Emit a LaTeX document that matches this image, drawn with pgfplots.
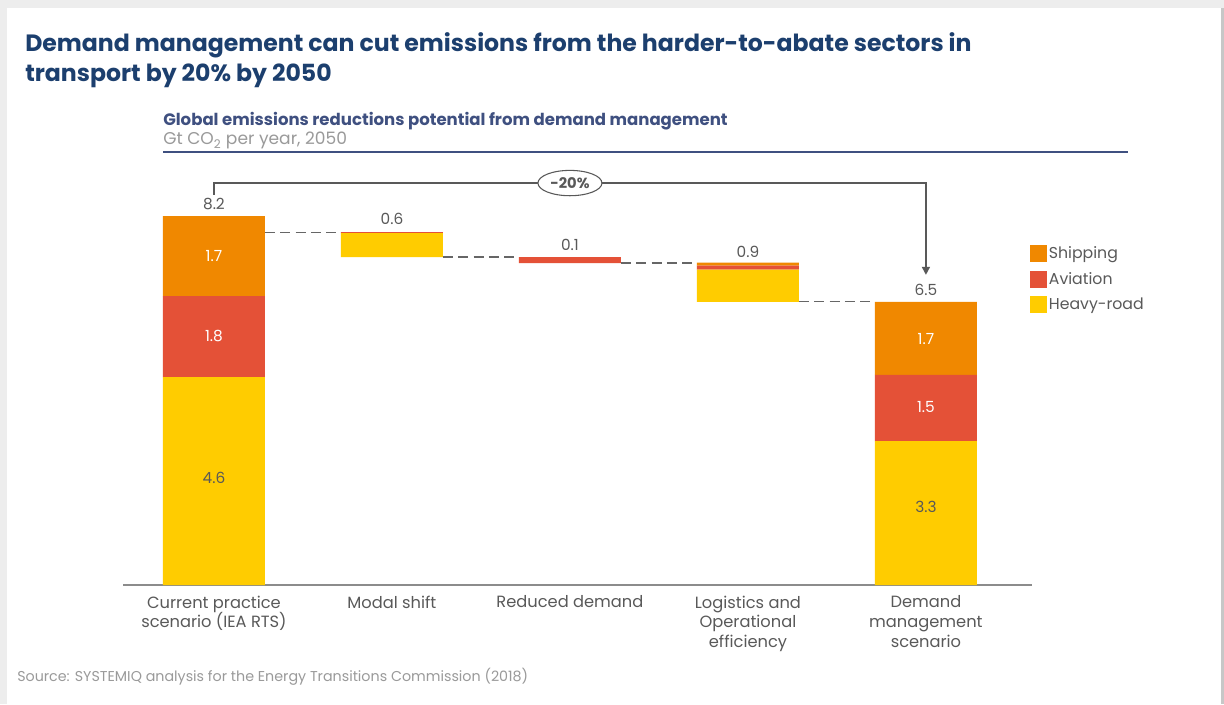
\documentclass[border=0pt]{standalone}
\usepackage{fontspec}
\setmainfont{Poppins}
\usepackage{pgfplots}
\pgfplotsset{compat=1.18}
\usetikzlibrary{arrows.meta,shapes.geometric}

\definecolor{shipc}{HTML}{F08800}
\definecolor{aviac}{HTML}{E45137}
\definecolor{roadc}{HTML}{FFCC00}
\definecolor{navy}{HTML}{1C3F6E}
\definecolor{subnavy}{HTML}{3F5080}
\definecolor{txtgray}{HTML}{595959}
\definecolor{lightgray}{HTML}{9A9A9A}

\begin{document}
\begin{tikzpicture}[x=0.75pt,y=0.75pt]
% panel with a soft frame
\fill[black!7] (0,0) rectangle (1224,704);
\fill[white] (7,0) rectangle (1221,696);
\fill[black!22] (1221,0) rectangle (1224,696);

% titles
\node[anchor=base west, inner sep=0, text=navy, font=\fontsize{17.7}{20}\selectfont\bfseries]
  at (25,704-52) {Demand management can cut emissions from the harder-to-abate sectors in};
\node[anchor=base west, inner sep=0, text=navy, font=\fontsize{17.7}{20}\selectfont\bfseries]
  at (25,704-82) {transport by 20\% by 2050};
\node[anchor=base west, inner sep=0, text=subnavy, font=\fontsize{12.4}{14}\selectfont\bfseries]
  at (163,704-126) {Global emissions reductions potential from demand management};
\node[anchor=base west, inner sep=0, text=lightgray, font=\fontsize{12.8}{14}\selectfont]
  at (163,704-145) {Gt CO\textsubscript{2} per year, 2050};
\draw[subnavy, line width=0.9pt] (163,704-152) -- (1128,704-152);
\node[anchor=base west, inner sep=0, text=lightgray, font=\fontsize{10.7}{12}\selectfont]
  at (17,704-681) {Source: SYSTEMIQ analysis for the Energy Transitions Commission (2018)};

\begin{axis}[
    at={(92.25pt,89.25pt)}, anchor=south west,
    scale only axis,
    width=681.75pt, height=309.94pt,
    ybar stacked,
    bar width=0.573,
    xmin=-0.511, xmax=4.596,
    ymin=0, ymax=9.5,
    clip=false,
    axis y line=none,
    axis x line*=bottom,
    x axis line style={-, draw=black!45, line width=1.1pt},
    ytick=\empty,
    xtick={0,1,2,3,4},
    xticklabels={Current practice\\scenario (IEA RTS), Modal shift, Reduced demand,
                 Logistics and\\Operational\\efficiency, Demand\\management\\scenario},
    major tick length=0pt,
    xticklabel style={align=center, text=txtgray, yshift=-4.5pt,
                      font=\fontsize{12.2}{14.8}\selectfont},
    legend style={draw=none, fill=none, at={(0.993,0.830)}, anchor=north west,
                  font=\fontsize{11.8}{13}\selectfont, row sep=5.6pt,
                  nodes={text=txtgray, inner sep=1.5pt}},
    legend cell align=left,
    reverse legend,
    legend image code/.code={\fill[#1] (0pt,-6.4pt) rectangle (12.75pt,6.4pt);},
]
% invisible offsets of the floating bars
\addplot[fill=none, draw=none, forget plot] coordinates {(0,0) (1,7.54) (2,7.40) (3,6.51) (4,0)};
\addplot[fill=roadc, draw=none] coordinates {(0,4.78) (1,0.55) (2,0) (3,0.74) (4,3.31)};
\addplot[fill=aviac, draw=none] coordinates {(0,1.86) (1,0.02) (2,0.14) (3,0.09) (4,1.52)};
\addplot[fill=shipc, draw=none] coordinates {(0,1.84) (1,0) (2,0) (3,0.07) (4,1.68)};
\legend{Heavy-road, Aviation, Shipping}

% anchor points for the annotations drawn on top
\coordinate (c1a) at (axis cs:0.2865,8.11);  \coordinate (c1b) at (axis cs:0.7135,8.11);
\coordinate (c2a) at (axis cs:1.2865,7.54);  \coordinate (c2b) at (axis cs:1.7135,7.54);
\coordinate (c3a) at (axis cs:2.2865,7.40);  \coordinate (c3b) at (axis cs:2.7135,7.40);
\coordinate (c4a) at (axis cs:3.2865,6.51);  \coordinate (c4b) at (axis cs:3.7135,6.51);
\coordinate (b0) at (axis cs:0,8.97); \coordinate (b1) at (axis cs:0,9.24);
\coordinate (b2) at (axis cs:4,9.24); \coordinate (b3) at (axis cs:4,7.13);
\coordinate (bm) at (axis cs:2,9.24);
\coordinate (t0) at (axis cs:0,8.76); \coordinate (t1) at (axis cs:1,8.41);
\coordinate (t2) at (axis cs:2,7.82); \coordinate (t3) at (axis cs:3,7.66);
\coordinate (t4) at (axis cs:4,6.78);
\coordinate (s0) at (axis cs:0,7.56); \coordinate (a0) at (axis cs:0,5.72);
\coordinate (h0) at (axis cs:0,2.46);
\coordinate (s4) at (axis cs:4,5.66); \coordinate (a4) at (axis cs:4,4.09);
\coordinate (h4) at (axis cs:4,1.79);
\end{axis}

% connectors
\draw[black!60, line width=0.9pt, dash pattern=on 7.5pt off 4pt]
  (c1a) -- (c1b) (c2a) -- (c2b) (c3a) -- (c3b) (c4a) -- (c4b);

% -20% bracket
\draw[black!65, line width=1.1pt, -{Triangle[length=6pt,width=6pt]}]
  (b0) -- (b1) -- (b2) -- (b3);
\node[ellipse, draw=black!65, line width=0.8pt, fill=white, inner sep=1pt,
      minimum width=48pt, minimum height=19pt, text=txtgray,
      font=\fontsize{11}{12}\selectfont\bfseries] at (bm) {-20\%};

% value labels
\tikzset{vl/.style={text=txtgray, font=\fontsize{11.5}{13}\selectfont, inner sep=0}}
\node[vl] at (t0) {8.2};
\node[vl] at (t1) {0.6};
\node[vl] at (t2) {0.1};
\node[vl] at (t3) {0.9};
\node[vl] at (t4) {6.5};
\node[vl, text=white] at (s0) {1.7};
\node[vl, text=white] at (a0) {1.8};
\node[vl] at (h0) {4.6};
\node[vl, text=white] at (s4) {1.7};
\node[vl, text=white] at (a4) {1.5};
\node[vl] at (h4) {3.3};
\end{tikzpicture}
\end{document}
